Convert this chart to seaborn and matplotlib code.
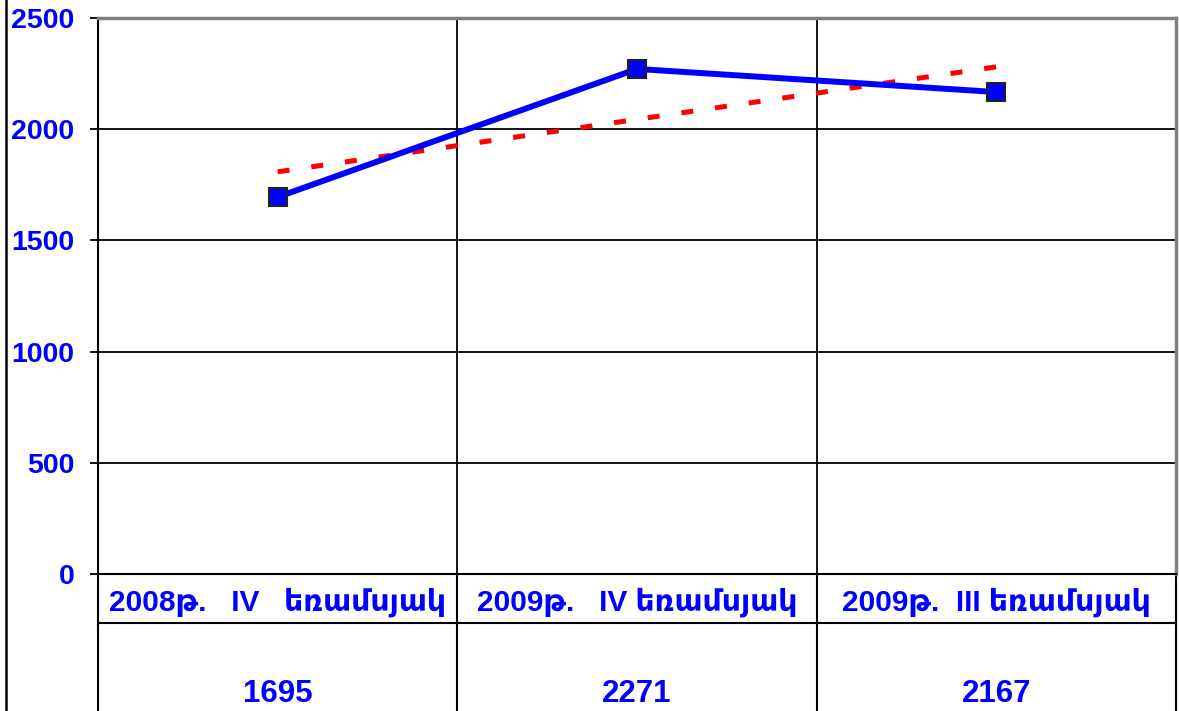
import matplotlib
matplotlib.use("Agg")
import matplotlib.pyplot as plt
from matplotlib.lines import Line2D
import seaborn as sns
import pandas as pd
import numpy as np

categories = ["2008թ.   IV   եռամսյակ", "2009թ.   IV եռամսյակ", "2009թ.  III եռամսյակ"]
values = [1695, 2271, 2167]
yticks = [0, 500, 1000, 1500, 2000, 2500]

sns.set_theme(style="white")
plt.rcParams['font.family'] = ['Liberation Sans', 'DejaVu Sans']

W, H = 1179, 711
fig = plt.figure(figsize=(W / 100, H / 100), dpi=100)
L, R, T, B = 98, 1176, 18, 574
ax = fig.add_axes([L / W, 1 - B / H, (R - L) / W, (B - T) / H])

pos = list(range(len(values)))
df = pd.DataFrame({"pos": pos, "value": values})

sns.regplot(data=df, x="pos", y="value", ax=ax, ci=None, scatter=False, truncate=True,
            line_kws=dict(color="#ff0000", lw=3.6, dashes=(2.4, 4.4), zorder=3))
sns.lineplot(data=df, x="pos", y="value", ax=ax, color="#0000ff", lw=4.3, marker="s",
             markersize=13, markerfacecolor="#0000ff", markeredgecolor="#222222",
             markeredgewidth=1.5, zorder=4)

ax.set_xlim(-0.5, len(values) - 0.5)
ax.set_ylim(0, 2500)
ax.set_yticks(yticks)
ax.set_yticklabels([str(t) for t in yticks], color="#0000ff", fontweight="bold", fontsize=20.5)
ax.set_xticks([])
ax.set_xlabel("")
ax.set_ylabel("")
ax.tick_params(axis="y", left=True, length=6, width=1.3, color="black", pad=11)

for t in yticks[1:-1]:
    ax.axhline(t, color="black", lw=1.3, zorder=1)
for xb in np.arange(0.5, len(values) - 0.5, 1):
    ax.axvline(xb, color="black", lw=1.3, zorder=1)

for s in ["left", "bottom"]:
    ax.spines[s].set_color("black")
    ax.spines[s].set_linewidth(1.5)
for s in ["top", "right"]:
    ax.spines[s].set_color("#808080")
    ax.spines[s].set_linewidth(2.5)

# data table below
tr = ax.get_xaxis_transform()
axh = B - T
y_row = -(623 - B) / axh
y_bot = -(H - B) / axh - 0.02
for xb in np.arange(-0.5, len(values), 1):
    ax.plot([xb, xb], [0, y_bot], color="black", lw=1.5, transform=tr, clip_on=False)
ax.plot([-0.5, len(values) - 0.5], [y_row, y_row], color="black", lw=1.5, transform=tr, clip_on=False)

y_cat = -(602 - B) / axh
y_val = -(694 - B) / axh
for p, c, v in zip(pos, categories, values):
    ax.text(p, y_cat, c, transform=tr, ha="center", va="center", color="#0000ff",
            fontweight="bold", fontsize=21.5)
    ax.text(p, y_val, str(v), transform=tr, ha="center", va="center", color="#0000ff",
            fontweight="bold", fontsize=22.5)

fig.add_artist(Line2D([5.5 / W, 5.5 / W], [0, 1], color="black", lw=1.8, transform=fig.transFigure))

fig.savefig("out.png", dpi=100)
